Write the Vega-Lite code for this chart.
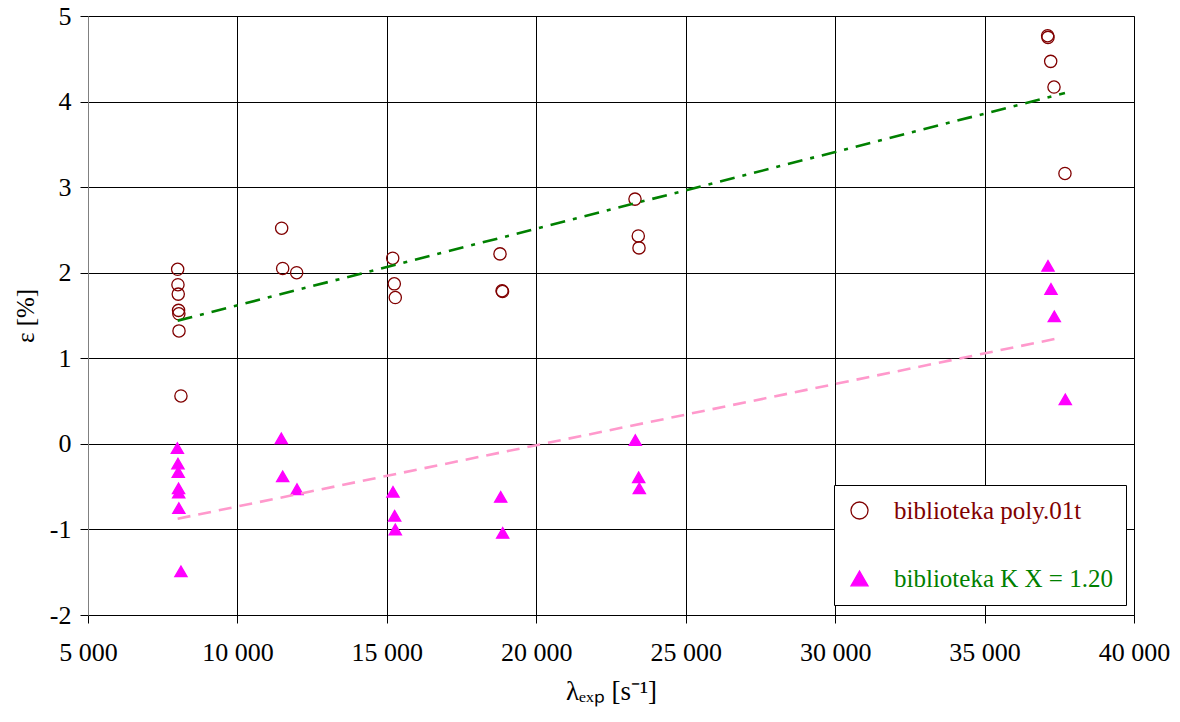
{
  "$schema": "https://vega.github.io/schema/vega-lite/v6.json",
  "width": 1046,
  "height": 599,
  "autosize": {"type": "none"},
  "padding": {"left": 88, "top": 16, "right": 46, "bottom": 107},
  "background": "white",
  "config": {"view": {"stroke": "#808080", "strokeWidth": 1}, "font": "Liberation Serif"},
  "datasets": {
    "pts": [
      {"series": "biblioteka poly.01t", "lam": 8000, "eps": 2.04},
      {"series": "biblioteka poly.01t", "lam": 8010, "eps": 1.86},
      {"series": "biblioteka poly.01t", "lam": 8020, "eps": 1.75},
      {"series": "biblioteka poly.01t", "lam": 8030, "eps": 1.56},
      {"series": "biblioteka poly.01t", "lam": 8040, "eps": 1.52},
      {"series": "biblioteka poly.01t", "lam": 8045, "eps": 1.32},
      {"series": "biblioteka poly.01t", "lam": 8110, "eps": 0.56},
      {"series": "biblioteka poly.01t", "lam": 11480, "eps": 2.52},
      {"series": "biblioteka poly.01t", "lam": 11514, "eps": 2.05},
      {"series": "biblioteka poly.01t", "lam": 11982, "eps": 2.0},
      {"series": "biblioteka poly.01t", "lam": 15196, "eps": 2.17},
      {"series": "biblioteka poly.01t", "lam": 15249, "eps": 1.87},
      {"series": "biblioteka poly.01t", "lam": 15282, "eps": 1.71},
      {"series": "biblioteka poly.01t", "lam": 18786, "eps": 2.22},
      {"series": "biblioteka poly.01t", "lam": 18855, "eps": 1.79},
      {"series": "biblioteka poly.01t", "lam": 18870, "eps": 1.78},
      {"series": "biblioteka poly.01t", "lam": 23303, "eps": 2.86},
      {"series": "biblioteka poly.01t", "lam": 23413, "eps": 2.43},
      {"series": "biblioteka poly.01t", "lam": 23437, "eps": 2.29},
      {"series": "biblioteka poly.01t", "lam": 37110, "eps": 4.77},
      {"series": "biblioteka poly.01t", "lam": 37122, "eps": 4.75},
      {"series": "biblioteka poly.01t", "lam": 37212, "eps": 4.47},
      {"series": "biblioteka poly.01t", "lam": 37323, "eps": 4.17},
      {"series": "biblioteka poly.01t", "lam": 37690, "eps": 3.16},
      {"series": "biblioteka K X = 1.20", "lam": 7990, "eps": -0.05},
      {"series": "biblioteka K X = 1.20", "lam": 8010, "eps": -0.23},
      {"series": "biblioteka K X = 1.20", "lam": 8020, "eps": -0.33},
      {"series": "biblioteka K X = 1.20", "lam": 8030, "eps": -0.52},
      {"series": "biblioteka K X = 1.20", "lam": 8035, "eps": -0.57},
      {"series": "biblioteka K X = 1.20", "lam": 8040, "eps": -0.75},
      {"series": "biblioteka K X = 1.20", "lam": 8110, "eps": -1.49},
      {"series": "biblioteka K X = 1.20", "lam": 11468, "eps": 0.065},
      {"series": "biblioteka K X = 1.20", "lam": 11514, "eps": -0.38},
      {"series": "biblioteka K X = 1.20", "lam": 11993, "eps": -0.53},
      {"series": "biblioteka K X = 1.20", "lam": 15205, "eps": -0.56},
      {"series": "biblioteka K X = 1.20", "lam": 15262, "eps": -0.84},
      {"series": "biblioteka K X = 1.20", "lam": 15282, "eps": -1.0},
      {"series": "biblioteka K X = 1.20", "lam": 18809, "eps": -0.62},
      {"series": "biblioteka K X = 1.20", "lam": 18876, "eps": -1.04},
      {"series": "biblioteka K X = 1.20", "lam": 23313, "eps": 0.045},
      {"series": "biblioteka K X = 1.20", "lam": 23427, "eps": -0.39},
      {"series": "biblioteka K X = 1.20", "lam": 23447, "eps": -0.52},
      {"series": "biblioteka K X = 1.20", "lam": 37122, "eps": 2.08},
      {"series": "biblioteka K X = 1.20", "lam": 37222, "eps": 1.81},
      {"series": "biblioteka K X = 1.20", "lam": 37333, "eps": 1.49},
      {"series": "biblioteka K X = 1.20", "lam": 37701, "eps": 0.52}
    ],
    "trend": [
      {"trend": "poly", "lam": 8000, "eps": 1.44},
      {"trend": "poly", "lam": 37690, "eps": 4.1},
      {"trend": "kx", "lam": 8000, "eps": -0.875},
      {"trend": "kx", "lam": 37410, "eps": 1.23}
    ]
  },
  "encoding": {
    "x": {
      "field": "lam",
      "type": "quantitative",
      "scale": {"domain": [5000, 40000], "nice": false, "zero": false},
      "axis": {
        "values": [5000, 10000, 15000, 20000, 25000, 30000, 35000, 40000],
        "title": "λₑₓₚ  [s⁻¹]",
        "labelExpr": "replace(format(datum.value, ','), ',', ' ')",
        "grid": true,
        "gridColor": "#000000",
        "gridWidth": 1,
        "gridOpacity": 1,
        "domainColor": "#000000",
        "tickColor": "#000000",
        "tickSize": 8,
        "labelFlush": false,
        "labelFont": "Liberation Serif",
        "labelFontSize": 26,
        "labelColor": "#000000",
        "labelPadding": 16,
        "titleFont": "Liberation Serif",
        "titleFontSize": 27,
        "titleFontWeight": "normal",
        "titleColor": "#000000",
        "titlePadding": 13
      }
    },
    "y": {
      "field": "eps",
      "type": "quantitative",
      "scale": {"domain": [-2, 5], "nice": false, "zero": false},
      "axis": {
        "values": [-2, -1, 0, 1, 2, 3, 4, 5],
        "title": "ε [%]",
        "labelExpr": "'' + datum.value",
        "grid": true,
        "gridColor": "#000000",
        "gridWidth": 1,
        "gridOpacity": 1,
        "domainColor": "#808080",
        "tickColor": "#000000",
        "tickSize": 8,
        "labelFont": "Liberation Serif",
        "labelFontSize": 26,
        "labelColor": "#000000",
        "labelPadding": 9,
        "titleFont": "Liberation Serif",
        "titleFontSize": 25,
        "titleFontWeight": "normal",
        "titleColor": "#000000",
        "titlePadding": 11
      }
    }
  },
  "layer": [
    {
      "data": {"name": "pts"},
      "mark": {"type": "point", "filled": true, "size": 150, "strokeWidth": 1.3, "opacity": 1},
      "encoding": {
        "shape": {
          "field": "series",
          "type": "nominal",
          "scale": {"domain": ["biblioteka poly.01t", "biblioteka K X = 1.20"], "range": ["circle", "triangle-up"]},
          "legend": {
            "title": null,
            "orient": "none",
            "legendX": 746,
            "legendY": 469,
            "fillColor": "white",
            "strokeColor": "#000000",
            "padding": 13,
            "labelFont": "Liberation Serif",
            "labelFontSize": 25,
            "labelOffset": 22,
            "labelLimit": 400,
            "labelColor": {"expr": "datum.label === 'biblioteka poly.01t' ? '#800000' : '#008000'"},
            "rowPadding": 42,
            "symbolSize": 290,
            "symbolStrokeWidth": 1.3
          }
        },
        "fill": {
          "field": "series",
          "type": "nominal",
          "scale": {"domain": ["biblioteka poly.01t", "biblioteka K X = 1.20"], "range": ["transparent", "#FF00FF"]}
        },
        "stroke": {
          "field": "series",
          "type": "nominal",
          "scale": {"domain": ["biblioteka poly.01t", "biblioteka K X = 1.20"], "range": ["#800000", "#FF00FF"]}
        }
      }
    },
    {
      "data": {"name": "trend"},
      "transform": [{"filter": "datum.trend === 'poly'"}],
      "mark": {"type": "line", "color": "#008000", "strokeWidth": 2.6, "strokeDash": [15, 8, 4, 8]},
      "encoding": {}
    },
    {
      "data": {"name": "trend"},
      "transform": [{"filter": "datum.trend === 'kx'"}],
      "mark": {"type": "line", "color": "#FF99CC", "strokeWidth": 2.6, "strokeDash": [13, 8]},
      "encoding": {}
    }
  ]
}
